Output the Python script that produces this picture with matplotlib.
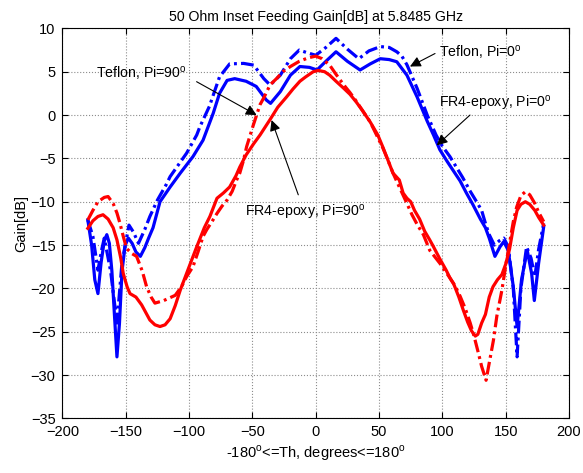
import matplotlib
matplotlib.use("Agg")
import matplotlib.pyplot as plt

plt.rcParams['font.family'] = ['Liberation Sans', 'DejaVu Sans']
plt.rcParams['mathtext.fontset'] = 'custom'
plt.rcParams['mathtext.rm'] = 'Liberation Sans'

# FR4-epoxy, Pi=0 (blue solid)
fr4_0_x = [-180, -177, -174.5, -172, -169.5, -167, -165, -163, -161, -159, -157, -155, -153, -150.5,
           -148, -145, -142, -138.5, -135, -132, -128.5, -123, -115, -107, -97, -89, -81, -76, -70,
           -64, -55, -47, -39, -35.7, -28, -20, -12.5, -5, 1, 8, 16, 25, 35, 43, 51, 58, 64, 72, 80,
           88, 93, 98, 104, 109, 114, 119, 124, 130, 134, 137, 141.5, 145.5, 148.5, 152, 156, 159,
           162.5, 167, 170.5, 172.6, 176, 180]
fr4_0_y = [-12.1, -15, -19, -20.6, -17, -14.5, -13.8, -14.8, -18, -23, -27.9, -24, -18, -15,
           -14.2, -14.8, -15.8, -16.3, -15.3, -14.2, -13.0, -10.0, -8.3, -6.7, -4.8, -2.9, 0.2, 2.5, 4.0,
           4.2, 3.9, 3.3, 1.73, 1.35, 2.7, 4.6, 5.6, 5.5, 5.2, 6.2, 7.3, 6.2, 5.2, 5.9, 6.5, 6.4, 6.15, 4.6, 2.1,
           -0.7, -2.3, -4.0, -5.4, -6.5, -7.6, -9.0, -10.3, -12.0, -13.0, -14.2, -16.3, -15.2, -14.6, -15.6, -19.8, -24.4,
           -19.0, -15.6, -18.3, -21.4, -17.1, -12.9]

# Teflon, Pi=0 (blue dash-dot)
tef_0_x = [-180, -176, -172, -169, -167, -162, -157, -153, -147.5, -144, -140, -135, -131, -125,
           -118, -115, -102, -94, -91.5, -84, -76, -68, -57, -49, -41, -36, -28, -20, -13, -7, 0, 8,
           16, 25, 34, 42, 51, 58, 64, 68, 72, 80, 88, 95, 100, 106, 111, 116, 122, 127, 131, 134,
           137, 141, 145, 148.5, 152, 156, 159, 162, 166.5, 170, 173, 176, 180]
tef_0_y = [-12.1, -14.0, -17.9, -15.5, -14.2, -18, -24, -17, -12.7, -13.5, -14.8, -13.2, -11.7, -9.8,
           -8.0, -7.1, -4.4, -2.3, -1.35, 1.0, 4.4, 5.9, 5.96, 5.76, 4.2, 3.46, 4.6, 6.5, 7.5, 7.2, 6.9, 7.8,
           8.85, 7.6, 6.5, 7.4, 7.9, 7.8, 7.3, 6.8, 5.8, 3.1, 0.0, -2.3, -3.6, -4.8, -6.0, -7.2, -8.8, -10.0, -11.0, -12.5,
           -13.8, -15.0, -14.5, -14.2, -15.2, -20, -27.9, -20, -15.2, -16.5, -18.65, -15.5, -12.5]

# FR4-epoxy, Pi=90 (red solid)
fr4_90_x = [-180, -176, -172, -168, -164, -160, -157, -154, -152, -149, -146.7, -142, -137.5, -131,
            -127, -123, -119, -115, -111, -107, -100, -94, -88, -83.6, -78, -73, -68, -63, -60, -55,
            -49, -44, -36, -30, -23, -18, -12.5, -8, -2, 2, 7, 11, 16, 22, 27, 32, 37, 43, 49, 53, 57,
            61, 66, 69, 72, 75, 78, 82, 86, 90, 93, 98, 103, 106, 109, 113, 116.5, 120, 123, 126, 128,
            131, 134, 137, 140, 143.5, 147, 150, 153, 156, 159, 162, 165.5, 169, 173, 176, 180]
fr4_90_y = [-13.07, -12.2, -11.7, -11.5, -12.0, -13.0, -14.4, -16.5, -18.3, -19.8, -20.6, -21.0, -21.9, -23.65,
            -24.2, -24.4, -24.2, -23.5, -22.0, -20.2, -17.5, -15.2, -13.0, -11.7, -9.6, -9.0, -8.3, -7.0, -6.0, -4.6,
            -3.3, -2.3, -0.5, 0.9, 2.1, 3.0, 3.9, 4.4, 5.0, 5.15, 5.0, 4.6, 3.9, 3.1, 2.4, 1.5, 0.5, -0.8, -2.3, -3.7, -5.2,
            -6.7, -7.5, -9.0, -9.6, -10.0, -11.0, -12.0, -13.4, -14.4, -15.2, -16.6, -17.9, -18.8, -19.5, -21.0, -22.5, -23.9, -24.9, -25.5, -25.3,
            -24.0, -23.0, -21.0, -19.8, -19.0, -18.4, -17.2, -15.5, -13.0, -11.0, -10.3, -10.0, -10.3, -11.0, -11.8, -12.7]

# Teflon, Pi=90 (red dash-dot)
tef_90_x = [-180, -176, -172, -167, -164, -160, -157, -154.6, -152, -149.4, -145, -141.5, -137, -133.6,
            -130, -127, -120, -111, -106, -102, -97, -93, -89, -86, -82, -78, -74, -70, -66, -62.5, -60,
            -57, -54.6, -49.4, -44, -41, -36, -31, -26, -20, -13, -6, 0, 5, 11, 16, 22, 27, 32, 37, 43, 48,
            53, 57, 61, 66, 72, 76, 80, 85, 90, 98, 106, 110, 114, 118, 122, 125, 128.5, 131, 134.5, 137,
            140.3, 143, 147, 150, 153.5, 156, 158.7, 162, 165.5, 169, 173, 176, 180]
tef_90_y = [-12.1, -11.0, -10.0, -9.5, -9.4, -10.2, -11.3, -12.5, -14.0, -15.4, -16.0, -16.3, -18.0, -19.8,
            -21.0, -21.7, -21.4, -20.8, -19.8, -18.65, -17.5, -15.8, -14.0, -13.2, -12.3, -11.35, -10.5, -9.8, -8.8, -7.5, -6.7,
            -5.2, -3.65, -1.2, 1.2, 2.0, 3.5, 4.2, 5.0, 5.6, 6.2, 6.6, 6.8, 6.5, 5.76, 4.7, 3.5, 2.6, 1.6, 0.5, -0.8, -2.3,
            -3.8, -5.2, -6.7, -8.3, -10.2, -11.5, -12.6, -13.8, -15.6, -17.1, -18.8, -19.7, -20.9, -22.3, -24.0, -25.5, -27.5, -29.0, -30.6, -28.6,
            -26.0, -23.2, -20.2, -17.4, -14.4, -12.3, -10.6, -9.3, -8.85, -9.2, -10.2, -11.2, -12.3]

x_ticks = list(range(-200, 201, 50))
y_ticks = list(range(-35, 11, 5))

fig = plt.figure(figsize=(5.83, 4.73), dpi=100)
ax = fig.add_axes([0.1072, 0.1154, 0.8688, 0.8246])

lw = 2.3
dd = (4.0, 1.3, 0.9, 1.3)
ax.plot(fr4_0_x, fr4_0_y, color='#0000ff', lw=lw, solid_joinstyle='round')
ax.plot(tef_0_x, tef_0_y, color='#0000ff', lw=lw, ls=(0, dd))
ax.plot(fr4_90_x, fr4_90_y, color='#ff0000', lw=lw, solid_joinstyle='round')
ax.plot(tef_90_x, tef_90_y, color='#ff0000', lw=lw, ls=(0, dd))

ax.set_xlim(-200, 200)
ax.set_ylim(-35, 10)
ax.set_xticks(x_ticks)
ax.set_yticks(y_ticks)
ax.tick_params(direction='in', top=True, right=True, labelsize=10.5, length=4)
ax.tick_params(axis='x', pad=5)
ax.tick_params(axis='y', pad=5)
ax.grid(True, ls=':', color='0.55', lw=0.8)
for s in ax.spines.values():
    s.set_linewidth(0.8)

ax.set_title('50 Ohm Inset Feeding Gain[dB] at 5.8485 GHz', fontsize=10.2, pad=5)
ax.set_xlabel(r'-180$^{\rm o}$<=Th, degrees<=180$^{\rm o}$', fontsize=10.5, labelpad=3)
ax.set_ylabel('Gain[dB]', fontsize=10.5, labelpad=2)

# labels + arrows
fs = 10.2
ax.text(-173.5, 4.3, r'Teflon, Pi=90$^{\rm o}$', fontsize=fs, va='baseline')
ax.text(-55.8, -11.7, r'FR4-epoxy, Pi=90$^{\rm o}$', fontsize=fs, va='baseline')
ax.text(97.6, 6.7, r'Teflon, Pi=0$^{\rm o}$', fontsize=fs, va='baseline')
ax.text(97.6, 0.9, r'FR4-epoxy, Pi=0$^{\rm o}$', fontsize=fs, va='baseline')

ap = dict(arrowstyle='-|>', color='k', lw=0.8, mutation_scale=16, shrinkA=0, shrinkB=0)
ax.annotate('', xy=(-46.7, 0.0), xytext=(-94.1, 3.85), arrowprops=ap)
ax.annotate('', xy=(-34.9, -0.58), xytext=(-13.8, -9.2), arrowprops=ap)
ax.annotate('', xy=(74.4, 5.6), xytext=(94.2, 7.1), arrowprops=ap)
ax.annotate('', xy=(95.5, -3.5), xytext=(121.8, 0.0), arrowprops=ap)

fig.savefig('out.png', dpi=100)
